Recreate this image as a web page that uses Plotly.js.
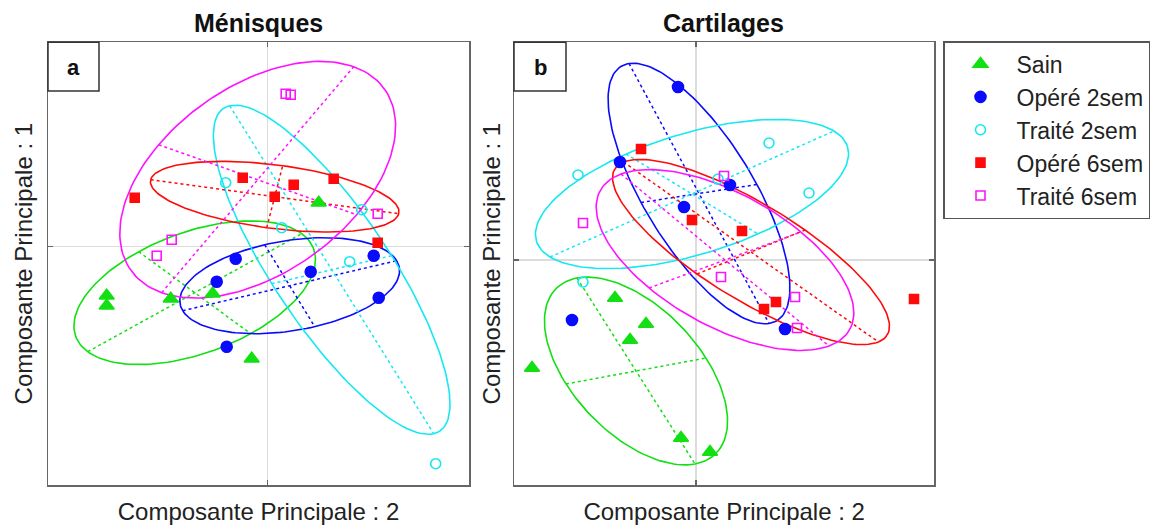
<!DOCTYPE html>
<html><head><meta charset="utf-8">
<script src="https://cdn.plot.ly/plotly-3.0.1.min.js"></script>
<style>body{margin:0;background:#fff}</style>
</head><body>
<div id="chart" style="width:1155px;height:526px"></div>
<script>
// ---------- categories ----------
const groups = ['Sain', 'Opéré 2sem', 'Traité 2sem', 'Opéré 6sem', 'Traité 6sem'];
const panelTitles = ['Ménisques', 'Cartilages'];
const panelLetters = ['a', 'b'];
const xAxisTitle = 'Composante Principale : 2';
const yAxisTitle = 'Composante Principale : 1';

// ---------- panel a : Ménisques (individual scores) ----------
const menSainX = [-1.61, -1.61, -0.97, -0.55, 0.51, -0.16];
const menSainY = [-0.49, -0.59, -0.52, -0.47, 0.44, -1.12];
const menOp2X  = [-0.32, -0.51, 0.43, 1.06, 1.11, -0.41];
const menOp2Y  = [-0.12, -0.35, -0.25, -0.09, -0.51, -1.00];
const menTr2X  = [-0.42, 0.14, 0.94, 0.82, 1.68];
const menTr2Y  = [0.64, 0.19, 0.37, -0.15, -2.17];
const menOp6X  = [-1.33, -0.25, 0.26, 0.07, 0.66, 1.10];
const menOp6Y  = [0.49, 0.69, 0.62, 0.50, 0.68, 0.04];
const menTr6X  = [0.18, 0.23, 1.10, -0.96, -1.11];
const menTr6Y  = [1.53, 1.52, 0.33, 0.07, -0.09];

// panel a ellipses (per group): centre, first half-axis, second half-axis
const menEllCx  = [-0.73, 0.22, 0.64, 0.07, -0.10];
const menEllCy  = [-0.46, -0.39, -0.23, 0.50, 0.67];
const menEllUx  = [1.07, 1.07, 1.02, 1.24, 0.96];
const menEllUy  = [0.59, 0.25, -1.64, -0.17, 1.13];
const menEllVx  = [0.56, 0.25, 0.60, 0.08, 0.99];
const menEllVy  = [-0.41, -0.41, 0.14, 0.31, -0.35];

// ---------- panel b : Cartilages (individual scores) ----------
const carSainX = [-0.81, -0.50, -0.66, -1.64, -0.15, 0.14];
const carSainY = [-0.38, -0.64, -0.80, -1.08, -1.78, -1.92];
const carOp2X  = [-0.18, -0.76, 0.34, -0.12, 0.89, -1.24];
const carOp2Y  = [1.73, 0.98, 0.75, 0.53, -0.69, -0.60];
const carTr2X  = [-1.18, 0.73, 1.13, 0.22, -1.13];
const carTr2Y  = [0.85, 1.17, 0.67, 0.81, -0.22];
const carOp6X  = [-0.55, -0.04, 0.46, 0.80, 0.68, 2.18];
const carOp6Y  = [1.11, 0.40, 0.29, -0.42, -0.49, -0.39];
const carTr6X  = [0.28, -1.13, 0.25, 0.99, 1.01];
const carTr6Y  = [0.84, 0.37, -0.17, -0.37, -0.68];

// panel b ellipses
const carEllCx  = [-0.60, 0.03, -0.04, 0.55, 0.29];
const carEllCy  = [-1.11, 0.665, 0.66, 0.08, 0.00];
const carEllUx  = [0.59, 0.70, 1.42, 1.275, 1.04];
const carEllUy  = [-0.93, -1.30, 0.63, -0.90, -0.86];
const carEllVx  = [0.70, 0.58, 0.66, 0.54, 0.76];
const carEllVy  = [0.13, 0.09, -0.40, 0.22, 0.28];

// ---------- styles ----------
const colors  = ['#12e012', '#0a0aff', '#16e8f2', '#ff0a0a', '#ff12ff'];
const symbols = ['triangle-up', 'circle', 'circle-open', 'square', 'square-open'];
const sizes   = [13, 11, 10, 9, 9];

const W = 1155, H = 526;
const px = p => p / W;
const py = p => 1 - p / H;

const panels = [
  {xs:[menSainX, menOp2X, menTr2X, menOp6X, menTr6X], ys:[menSainY, menOp2Y, menTr2Y, menOp6Y, menTr6Y],
   e:{cx:menEllCx, cy:menEllCy, ux:menEllUx, uy:menEllUy, vx:menEllVx, vy:menEllVy}, xa:'x', ya:'y'},
  {xs:[carSainX, carOp2X, carTr2X, carOp6X, carTr6X], ys:[carSainY, carOp2Y, carTr2Y, carOp6Y, carTr6Y],
   e:{cx:carEllCx, cy:carEllCy, ux:carEllUx, uy:carEllUy, vx:carEllVx, vy:carEllVy}, xa:'x2', ya:'y2'}
];

const traces = [];
panels.forEach((p, pi) => {
  groups.forEach((g, gi) => {
    const e = p.e;
    const ex = [], ey = [];
    const N = 160;
    for (let k = 0; k <= N; k++) {
      const t = 2 * Math.PI * k / N;
      ex.push(e.cx[gi] + Math.cos(t) * e.ux[gi] + Math.sin(t) * e.vx[gi]);
      ey.push(e.cy[gi] + Math.cos(t) * e.uy[gi] + Math.sin(t) * e.vy[gi]);
    }
    traces.push({type:'scatter', mode:'lines', x:ex, y:ey, xaxis:p.xa, yaxis:p.ya,
      line:{color:colors[gi], width:1.6}, showlegend:false, hoverinfo:'skip'});
    // the two ellipse axes (dotted)
    traces.push({type:'scatter', mode:'lines',
      x:[e.cx[gi]-e.ux[gi], e.cx[gi]+e.ux[gi], null, e.cx[gi]-e.vx[gi], e.cx[gi]+e.vx[gi]],
      y:[e.cy[gi]-e.uy[gi], e.cy[gi]+e.uy[gi], null, e.cy[gi]-e.vy[gi], e.cy[gi]+e.vy[gi]],
      xaxis:p.xa, yaxis:p.ya, line:{color:colors[gi], width:1.5, dash:'dot'},
      showlegend:false, hoverinfo:'skip'});
  });
  groups.forEach((g, gi) => {
    traces.push({type:'scatter', mode:'markers', name:g, x:p.xs[gi], y:p.ys[gi],
      xaxis:p.xa, yaxis:p.ya, showlegend:pi === 0,
      marker:{symbol:symbols[gi], color:colors[gi], size:sizes[gi], line:{color:colors[gi], width:1.6}}});
  });
});

const axisCommon = {
  showgrid:false, zeroline:true, zerolinecolor:'#dcdcdc', zerolinewidth:1.5,
  showline:true, mirror:'ticks', linecolor:'#666', linewidth:1.5,
  tickvals:[0], ticks:'inside', ticklen:5, tickcolor:'#666', tickwidth:1.2,
  showticklabels:false, fixedrange:true
};
const titleFont = {family:'Liberation Sans, Arial, sans-serif', size:24, color:'#222'};

const layout = {
  width:W, height:H, margin:{l:0, r:0, t:0, b:0},
  paper_bgcolor:'#fff', plot_bgcolor:'#fff',
  font:{family:'Liberation Sans, Arial, sans-serif', color:'#222'},
  xaxis:Object.assign({}, axisCommon, {domain:[px(48), px(469)], range:[-2.197, 2.013],
    title:{text:xAxisTitle, font:titleFont, standoff:17}}),
  yaxis:Object.assign({}, axisCommon, {domain:[py(485), py(42.3)], range:[-2.383, 2.044],
    title:{text:yAxisTitle, font:titleFont, standoff:7}}),
  xaxis2:Object.assign({}, axisCommon, {domain:[px(514), px(934.3)], range:[-1.82, 2.383], anchor:'y2',
    title:{text:xAxisTitle, font:titleFont, standoff:17}}),
  yaxis2:Object.assign({}, axisCommon, {domain:[py(485), py(42.3)], range:[-2.25, 2.177], anchor:'x2',
    title:{text:yAxisTitle, font:titleFont, standoff:5}}),
  legend:{x:px(943), y:py(41), xanchor:'left', yanchor:'top', bgcolor:'#fff',
    bordercolor:'#555', borderwidth:1.5, itemwidth:62,
    font:{family:'Liberation Sans, Arial, sans-serif', size:23, color:'#222'}},
  shapes:[
    {type:'rect', xref:'paper', yref:'paper', x0:px(48), x1:px(99), y0:py(91), y1:py(42.3),
     line:{color:'#333', width:1.5}},
    {type:'rect', xref:'paper', yref:'paper', x0:px(514), x1:px(566), y0:py(91), y1:py(42.3),
     line:{color:'#333', width:1.5}}
  ],
  annotations:[
    {text:'<b>' + panelTitles[0] + '</b>', xref:'paper', yref:'paper', x:px(258), y:py(23),
     showarrow:false, xanchor:'center', yanchor:'middle', font:{size:25, color:'#111'}},
    {text:'<b>' + panelTitles[1] + '</b>', xref:'paper', yref:'paper', x:px(723), y:py(23),
     showarrow:false, xanchor:'center', yanchor:'middle', font:{size:25, color:'#111'}},
    {text:'<b>' + panelLetters[0] + '</b>', xref:'paper', yref:'paper', x:px(73.5), y:py(67),
     showarrow:false, xanchor:'center', yanchor:'middle', font:{size:22, color:'#111'}},
    {text:'<b>' + panelLetters[1] + '</b>', xref:'paper', yref:'paper', x:px(540), y:py(67),
     showarrow:false, xanchor:'center', yanchor:'middle', font:{size:22, color:'#111'}}
  ]
};

Plotly.newPlot('chart', traces, layout, {displayModeBar:false, staticPlot:true});
</script>
</body></html>
